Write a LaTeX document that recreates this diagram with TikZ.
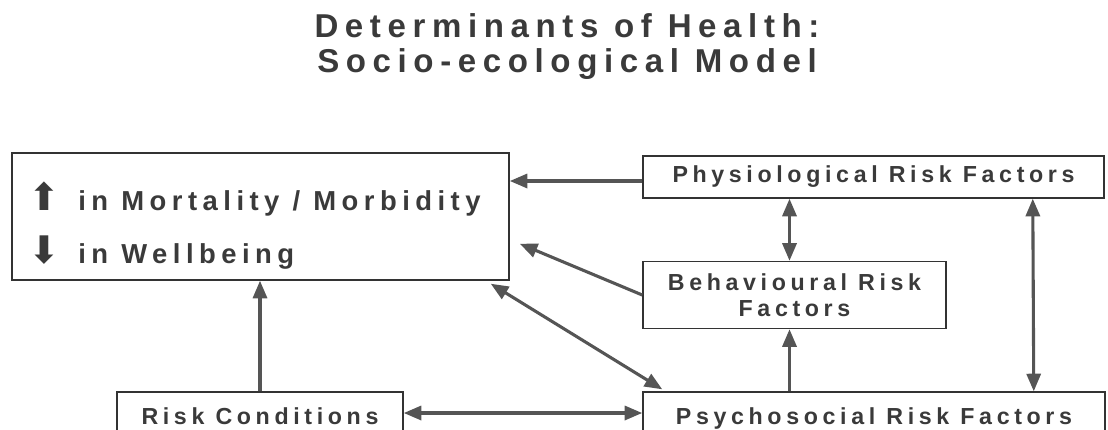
\documentclass[tikz,border=0pt]{standalone}
\usepackage{fontspec}
\setmainfont{Liberation Sans}
\newfontfamily\spacedfont[LetterSpace=20]{Liberation Sans}
\newfontfamily\symbfont{DejaVu Sans}
\usetikzlibrary{arrows.meta,calc}

\definecolor{inkgray}{HTML}{3A3A3A}
\definecolor{linegray}{HTML}{555555}

\begin{document}
\begin{tikzpicture}[x=0.025cm,y=-0.025cm]
\newcommand{\titlesize}{\fontsize{23.5}{26}\selectfont}
\newcommand{\boxsize}{\fontsize{16.5}{18.5}\selectfont}
\newcommand{\bigsize}{\fontsize{19.5}{24}\selectfont}
\newcommand{\symbsize}{\fontsize{27}{30}\selectfont}
\newcommand{\arrowtip}{Triangle[length=12.5pt,width=10pt]}

\tikzset{every path/.style={line width=1pt}}
\tikzset{
  riskbox/.style={draw=black!80, inner sep=0pt, text=inkgray,
    font=\spacedfont\bfseries\boxsize, align=center},
  heading/.style={anchor=base, text=inkgray, font=\spacedfont\bfseries\titlesize},
  link/.style={draw=linegray, line width=2.2pt, -{\arrowtip}},
  twolink/.style={draw=linegray, line width=2.2pt, {\arrowtip}-{\arrowtip}},
}
    \useasboundingbox (0,0) rectangle (1108,429);

    % title
    \node[heading] (title1) at (567,37) {Determinants of Health:};
    \node[heading] (title2) at (567,72) {Socio-ecological Model};

    % boxes
    \node[riskbox, minimum width=12.425cm, minimum height=3.175cm] (main) at (260.5,216.5) {};
    \node[riskbox, minimum width=11.525cm, minimum height=1.05cm] (phys) at (873.5,177) {Physiological Risk Factors};
    \node[riskbox, minimum width=7.575cm, minimum height=1.675cm] (behav) at (794.5,295) {Behavioural Risk\\Factors};
    \node[riskbox, minimum width=11.55cm, minimum height=1.3cm] (psycho) at (874,418) {Psychosocial Risk Factors};
    \node[riskbox, minimum width=7.15cm, minimum height=1.2cm] (risk) at (260,416) {Risk Conditions};

    % outcome text
    \node[anchor=base west, inner sep=0pt, text=inkgray, font=\symbfont\symbsize] (up) at (28,210) {⬆};
    \node[anchor=base west, text=inkgray, font=\spacedfont\bfseries\bigsize] (line1) at (73,210) {in Mortality / Morbidity};
    \node[anchor=base west, inner sep=0pt, text=inkgray, font=\symbfont\symbsize] (down) at (28,263) {⬇};
    \node[anchor=base west, text=inkgray, font=\spacedfont\bfseries\bigsize] (line2) at (73,263) {in Wellbeing};

    % connectors
    \coordinate (btop) at ($(behav.north)+(-5,0)$);
    \coordinate (bbot) at ($(behav.south)+(-5,0)$);
    \draw[link] (phys.west |- 0,181) -- (main.east |- 0,181);
    \draw[link] (behav.west) -- ($(main.south east)+(10,-37)$);
    \draw[twolink] ($(main.south east)+(-19,3)$) -- ($(psycho.north west)+(20,-2)$);
    \draw[twolink] (btop) -- (btop |- phys.south);
    \draw[link] (bbot |- psycho.north) -- (bbot);
    \draw[twolink] ($(phys.south east)+(-72,0)$) -- ($(psycho.north east)+(-72,0)$);
    \draw[link] (risk.north) -- (risk.north |- main.south);
    \draw[twolink] (risk.east |- 0,413) -- (psycho.west |- 0,413);
\end{tikzpicture}
\end{document}
